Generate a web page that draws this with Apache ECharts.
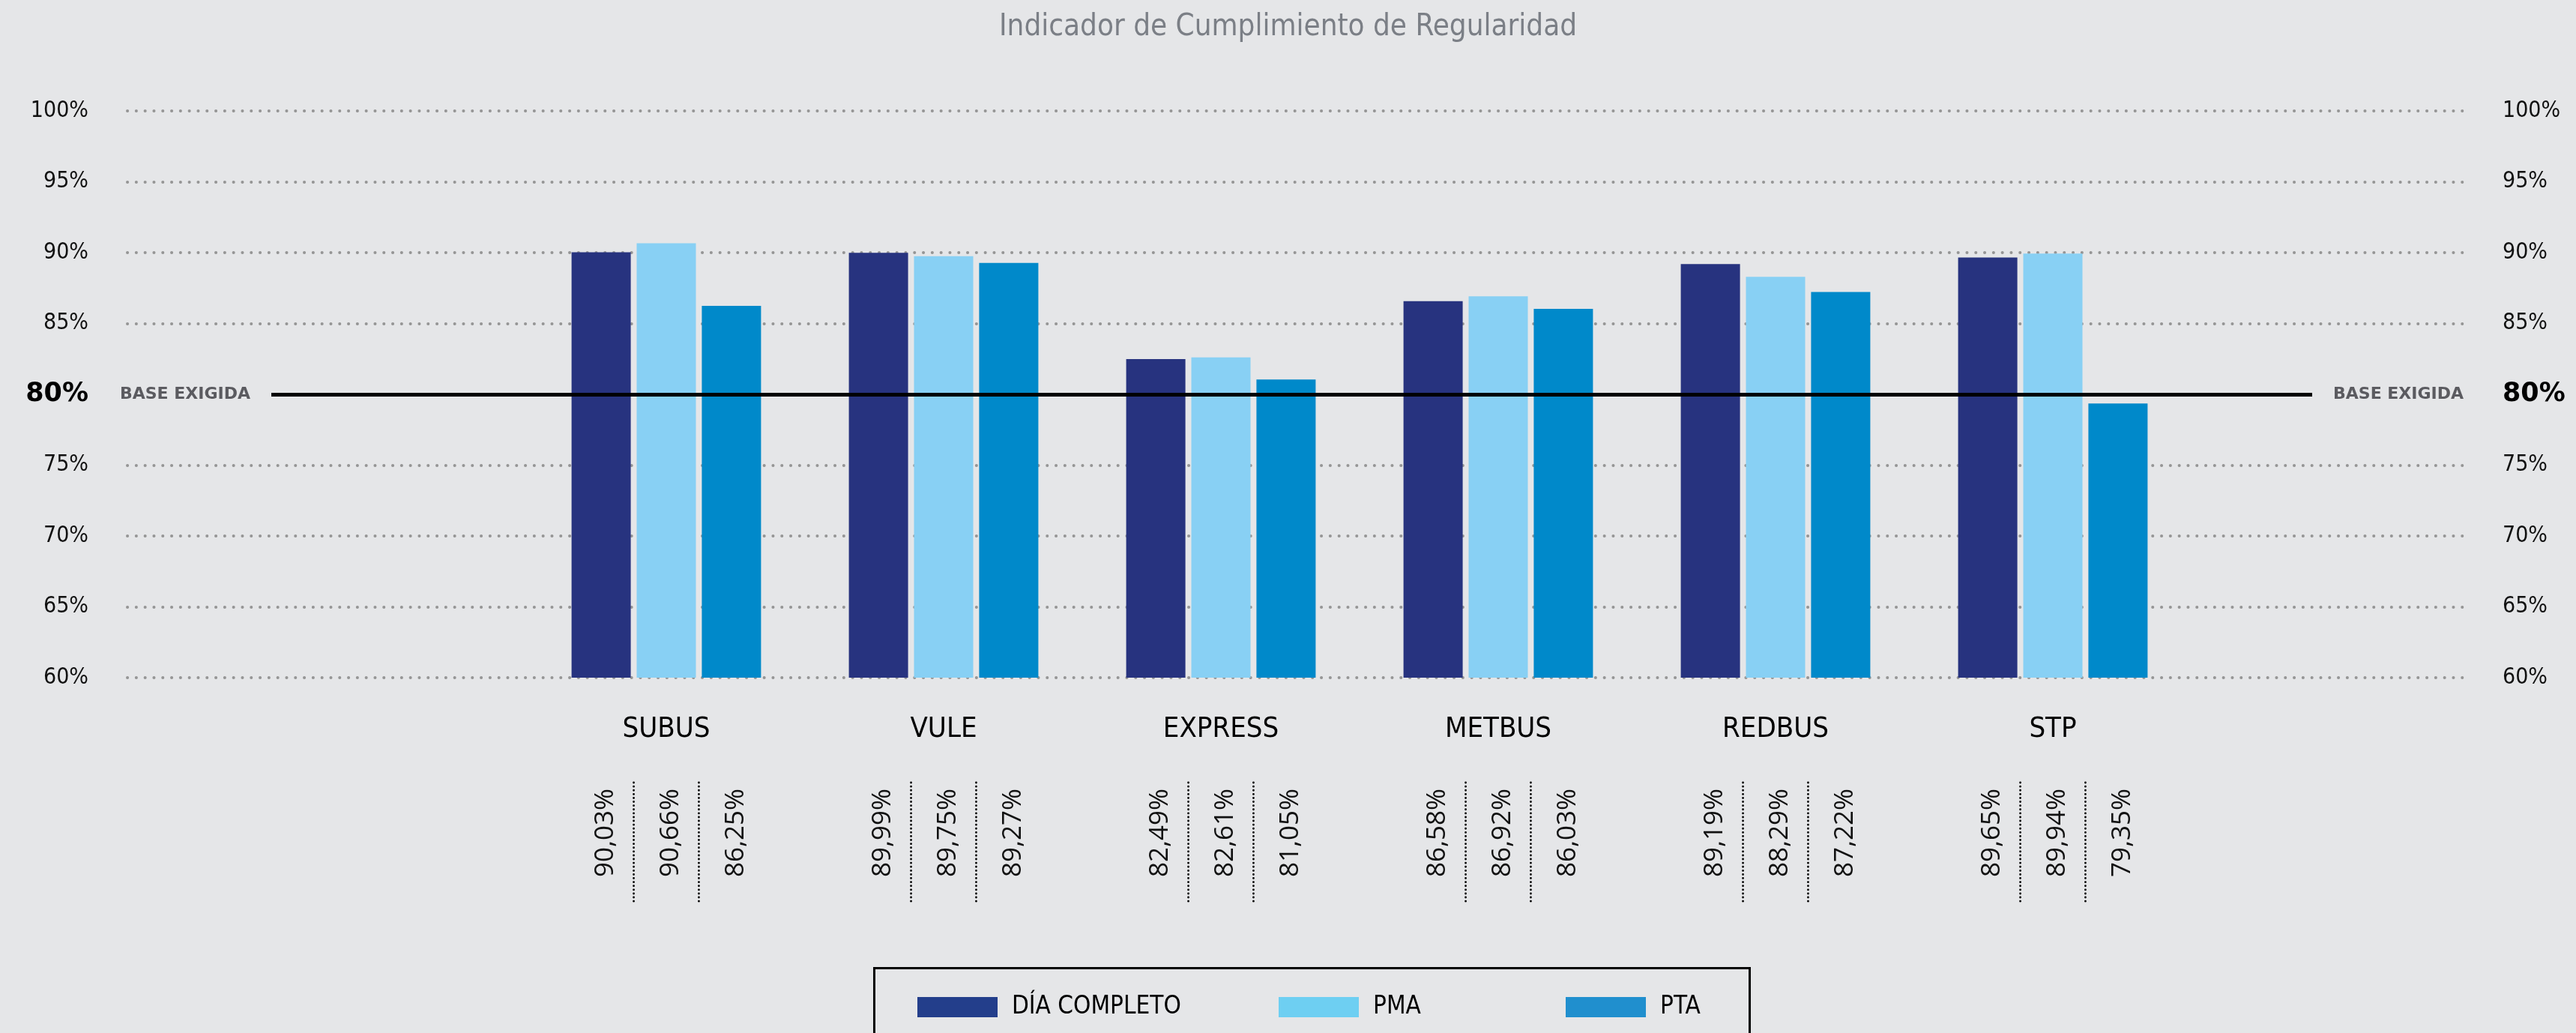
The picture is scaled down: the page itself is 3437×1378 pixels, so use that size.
<!DOCTYPE html>
<html>
<head>
<meta charset="utf-8">
<title>Indicador de Cumplimiento de Regularidad</title>
<script src="https://cdn.jsdelivr.net/npm/echarts@6/dist/echarts.min.js"></script>
<style>
  html, body { margin: 0; padding: 0; background: #e5e6e8; }
  #chart { width: 3437px; height: 1378px; }
</style>
</head>
<body>
<div id="chart"></div>
<script>
// datos del gráfico
const categories = ['SUBUS', 'VULE', 'EXPRESS', 'METBUS', 'REDBUS', 'STP']
const diaCompleto = [90.03, 89.99, 82.49, 86.58, 89.19, 89.65]
const pma = [90.66, 89.75, 82.61, 86.92, 88.29, 89.94]
const pta = [86.25, 89.27, 81.05, 86.03, 87.22, 79.35]
const seriesNames = ['DÍA COMPLETO', 'PMA', 'PTA']
const yMin = 60
const yMax = 100
const yStep = 5
const baseExigida = 80

const narrow = '"DejaVu Sans Condensed", "DejaVu Sans", sans-serif'
const barColors = ['#27337f', '#88d0f4', '#0089ca']
const legendColors = ['#233e8b', '#6ecff2', '#208fce']
const legendLeft = [1224, 1706, 2089]
const BAR_W = 79
const BAR_STEP = BAR_W * 1.1

// mismas medidas verticales para todas las grillas
const gridTop = 148
const gridBottom = 474

function fmt(v) {
  return v.toFixed(2).replace('.', ',') + '%'
}

const chart = echarts.init(document.getElementById('chart'))

// etiquetas giradas bajo cada barra, con separadores punteados
function renderValues(params, api) {
  const base = api.coord([api.value(0), yMin])
  const children = []
  for (let k = 0; k < 3; k++) {
    const cx = base[0] + (k - 1) * BAR_STEP
    children.push({
      type: 'text',
      x: cx + 6,
      y: base[1] + 207,
      rotation: Math.PI / 2,
      style: {
        text: fmt(api.value(k + 1)),
        fill: '#111',
        fontSize: 35,
        fontFamily: '"Open Sans", sans-serif',
        align: 'center',
        verticalAlign: 'middle'
      }
    })
  }
  ;[-0.5, 0.5].forEach(o => {
    const x = base[0] + o * BAR_STEP
    children.push({
      type: 'line',
      shape: { x1: x, y1: base[1] + 140, x2: x, y2: base[1] + 299 },
      style: { stroke: '#000', lineWidth: 2.8, lineDash: [0.1, 5], lineCap: 'round' }
    })
  })
  return { type: 'group', children }
}

const gridColors = []
for (let v = yMin; v <= yMax; v += yStep) {
  gridColors.push(v === baseExigida ? 'rgba(0,0,0,0)' : '#959595')
}

const yLabel = {
  margin: 52,
  fontFamily: narrow,
  fontSize: 30,
  color: '#111',
  formatter: v => v === baseExigida ? '{b|' + v + '%}' : v + '%',
  rich: {
    b: { fontFamily: '"DejaVu Sans", sans-serif', fontWeight: 'bold', fontSize: 35, color: '#000' }
  }
}

const option = {
  backgroundColor: '#e5e6e8',
  animation: false,
  title: {
    text: 'Indicador de Cumplimiento de Regularidad',
    left: 'center',
    top: 12,
    textStyle: { fontFamily: narrow, fontSize: 40, fontWeight: 'normal', color: '#7b7f86' }
  },
  // una leyenda por serie para respetar la separación del original
  legend: seriesNames.map((n, i) => ({
    left: legendLeft[i],
    top: 1327,
    padding: 0,
    itemWidth: 107,
    itemHeight: 27,
    icon: 'rect',
    selectedMode: false,
    data: [{ name: n, itemStyle: { color: legendColors[i] } }],
    textStyle: { fontFamily: narrow, fontSize: 33, color: '#000', padding: [0, 0, 0, 14] }
  })),
  graphic: [{
    type: 'rect',
    left: 1164,
    top: 1289,
    shape: { width: 1168, height: 200 },
    style: { fill: 'none', stroke: '#000', lineWidth: 3 },
    silent: true
  }],
  grid: [
    { left: 170, right: 149, top: gridTop, bottom: gridBottom },
    { left: 704, width: 2220, top: gridTop, bottom: gridBottom },
    { left: 362, right: 352, top: gridTop, bottom: gridBottom }
  ],
  xAxis: [
    { gridIndex: 0, type: 'value', show: false },
    {
      gridIndex: 1,
      type: 'category',
      data: categories,
      axisLine: { show: false },
      axisTick: { show: false },
      axisLabel: { margin: 50, fontFamily: narrow, fontSize: 38, color: '#000' }
    },
    { gridIndex: 2, type: 'value', show: false, min: 0, max: 1 }
  ],
  yAxis: [
    {
      gridIndex: 0, type: 'value', min: yMin, max: yMax, interval: yStep, position: 'left',
      axisLine: { show: false }, axisTick: { show: false },
      axisLabel: yLabel,
      splitLine: { lineStyle: { color: gridColors, width: 4, type: [0.1, 11.7], cap: 'round' } }
    },
    {
      gridIndex: 0, type: 'value', min: yMin, max: yMax, interval: yStep, position: 'right',
      axisLine: { show: false }, axisTick: { show: false },
      axisLabel: Object.assign({}, yLabel, { margin: 51 }),
      splitLine: { show: false }
    },
    { gridIndex: 1, type: 'value', min: yMin, max: yMax, show: false },
    { gridIndex: 2, type: 'value', min: yMin, max: yMax, show: false }
  ],
  series: [
    ...[diaCompleto, pma, pta].map((d, i) => ({
      name: seriesNames[i],
      type: 'bar',
      xAxisIndex: 1,
      yAxisIndex: 2,
      data: d,
      barWidth: BAR_W,
      barGap: '10%',
      itemStyle: { color: barColors[i] }
    })),
    {
      type: 'custom',
      xAxisIndex: 1,
      yAxisIndex: 2,
      clip: false,
      silent: true,
      renderItem: renderValues,
      data: categories.map((c, i) => [i, diaCompleto[i], pma[i], pta[i]]),
      z: 3
    },
    {
      type: 'line',
      xAxisIndex: 2,
      yAxisIndex: 3,
      data: [],
      z: 5,
      markLine: {
        silent: true,
        symbol: 'none',
        lineStyle: { color: '#000', width: 5, type: 'solid' },
        label: {
          formatter: 'BASE EXIGIDA',
          distance: 28,
          color: '#5b5b60',
          fontWeight: 'bold',
          fontSize: 22,
          fontFamily: '"DejaVu Sans", sans-serif'
        },
        data: [
          { yAxis: baseExigida, label: { position: 'start' } },
          { yAxis: baseExigida, label: { position: 'end' } }
        ]
      }
    }
  ]
}

chart.setOption(option)
</script>
</body>
</html>
